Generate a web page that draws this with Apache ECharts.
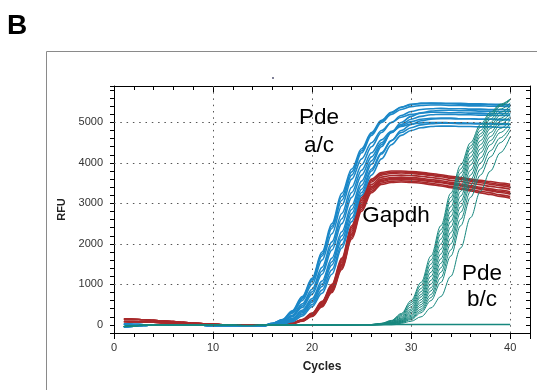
<!DOCTYPE html>
<html>
<head>
<meta charset="utf-8">
<script src="https://cdn.jsdelivr.net/npm/echarts@6/dist/echarts.min.js"></script>
<style>
  html, body { margin: 0; padding: 0; background: #fff; }
  #main { width: 537px; height: 390px; }
</style>
</head>
<body>
<div id="main"></div>
<script>
// cycle numbers on the x axis
const cycles = [1, 2, 3, 4, 5, 6, 7, 8, 9, 10, 11, 12, 13, 14, 15, 16, 17, 18, 19, 20,
  21, 22, 23, 24, 25, 26, 27, 28, 29, 30, 31, 32, 33, 34, 35, 36, 37, 38, 39, 40];

const xTickLabels = [0, 10, 20, 30, 40];
const yTickLabels = [0, 1000, 2000, 3000, 4000, 5000];

// Gapdh: cycles 1-15 baseline, cycles 16-40 amplification
const redBaseHi = [150, 140, 128, 112, 96, 80, 62, 45, 30, 15, 5, 0, -5, -5, 0];
const redBaseLo = [85, 80, 72, 64, 55, 46, 36, 26, 18, 10, 3, 0, -5, -5, 0];
const gapdh1 = [10, 22, 50, 130, 290, 580, 1000, 1650, 2450, 3150, 3600, 3760, 3800, 3800, 3790, 3770, 3740, 3710, 3670, 3640, 3600, 3570, 3540, 3505, 3475];
const gapdh2 = [9, 20, 46, 120, 270, 550, 950, 1580, 2370, 3070, 3530, 3700, 3740, 3750, 3740, 3720, 3690, 3660, 3620, 3590, 3550, 3510, 3470, 3440, 3400];
const gapdh3 = [8, 19, 44, 114, 258, 530, 920, 1540, 2320, 3020, 3470, 3650, 3690, 3700, 3690, 3670, 3640, 3610, 3570, 3540, 3500, 3460, 3420, 3390, 3350];
const gapdh4 = [7, 18, 42, 108, 245, 510, 890, 1500, 2270, 2970, 3420, 3600, 3640, 3650, 3640, 3620, 3590, 3560, 3520, 3480, 3440, 3400, 3360, 3330, 3290];
const gapdh5 = [6, 16, 38, 100, 228, 480, 850, 1440, 2200, 2900, 3350, 3545, 3590, 3600, 3590, 3570, 3540, 3510, 3470, 3430, 3390, 3350, 3310, 3270, 3230];
const gapdh6 = [6, 15, 36, 95, 218, 462, 825, 1405, 2160, 2855, 3305, 3505, 3550, 3560, 3550, 3530, 3500, 3460, 3420, 3380, 3340, 3300, 3260, 3210, 3170];
const gapdh7 = [5, 14, 34, 90, 208, 445, 800, 1370, 2120, 2810, 3265, 3470, 3515, 3530, 3520, 3500, 3465, 3430, 3390, 3350, 3310, 3260, 3220, 3175, 3130];
const gapdh8 = [9, 21, 48, 125, 280, 565, 975, 1615, 2410, 3110, 3565, 3730, 3770, 3775, 3765, 3745, 3715, 3685, 3645, 3615, 3575, 3540, 3505, 3470, 3440];
const gapdh9 = [7, 17, 40, 104, 236, 495, 870, 1470, 2235, 2935, 3385, 3570, 3615, 3620, 3610, 3590, 3560, 3530, 3490, 3450, 3410, 3370, 3330, 3300, 3260];

// Pde a/c: cycles 1-15 baseline, cycles 16-40 amplification
const blueBaseA = [20, 10, 5, 0, 0, -5, -5, -10, -10, -15, -20, -25, -30, -30, -25];
const blueBaseB = [-50, -30, -15, -5, 0, 0, -5, -5, -10, -15, -20, -25, -30, -30, -20];
const pdeAC1 = [40, 130, 350, 700, 1150, 1800, 2500, 3250, 3850, 4350, 4750, 5050, 5250, 5380, 5450, 5470, 5470, 5460, 5460, 5450, 5450, 5440, 5440, 5430, 5430];
const pdeAC2 = [30, 110, 290, 600, 1000, 1600, 2250, 2950, 3600, 4100, 4500, 4800, 5000, 5130, 5200, 5230, 5250, 5250, 5240, 5240, 5230, 5230, 5220, 5220, 5210];
const pdeAC3 = [25, 90, 240, 520, 880, 1420, 2050, 2750, 3400, 3950, 4400, 4750, 5000, 5170, 5270, 5320, 5340, 5350, 5340, 5340, 5330, 5330, 5320, 5320, 5310];
const pdeAC4 = [20, 70, 200, 430, 760, 1250, 1850, 2500, 3150, 3700, 4150, 4500, 4750, 4920, 5020, 5080, 5100, 5100, 5100, 5090, 5090, 5080, 5080, 5070, 5070];
const pdeAC5 = [15, 55, 160, 360, 650, 1080, 1650, 2300, 2950, 3550, 4050, 4450, 4750, 4950, 5080, 5150, 5190, 5200, 5200, 5190, 5190, 5180, 5180, 5170, 5170];
const pdeAC6 = [10, 45, 130, 300, 560, 950, 1480, 2100, 2750, 3350, 3850, 4250, 4550, 4750, 4870, 4940, 4970, 4980, 4980, 4970, 4970, 4960, 4960, 4950, 4950];
const pdeAC7 = [5, 20, 80, 220, 450, 780, 1250, 1900, 2550, 3200, 3700, 4100, 4450, 4680, 4800, 4870, 4900, 4910, 4910, 4900, 4900, 4890, 4890, 4880, 4880];
const pdeAC8 = [35, 120, 310, 640, 1080, 1700, 2380, 3080, 3700, 4250, 4680, 5000, 5200, 5320, 5390, 5420, 5430, 5430, 5420, 5420, 5410, 5410, 5400, 5400, 5390];
const pdeAC9 = [38, 125, 330, 670, 1120, 1750, 2440, 3170, 3780, 4300, 4720, 5030, 5240, 5370, 5440, 5470, 5480, 5480, 5470, 5470, 5460, 5460, 5450, 5450, 5440];
const pdeAC10 = [22, 80, 220, 470, 820, 1330, 1950, 2620, 3270, 3820, 4250, 4570, 4780, 4900, 4960, 4990, 5000, 5000, 4990, 4990, 4980, 4980, 4970, 4970, 4960];
const pdeAC11 = [12, 50, 145, 330, 600, 1010, 1560, 2200, 2850, 3450, 3970, 4400, 4750, 5000, 5150, 5240, 5280, 5300, 5300, 5290, 5290, 5280, 5280, 5270, 5270];
const pdeAC12 = [8, 32, 105, 260, 500, 860, 1360, 1980, 2640, 3270, 3800, 4220, 4550, 4800, 4950, 5040, 5080, 5100, 5100, 5090, 5090, 5080, 5080, 5070, 5070];

// Pde b/c: cycles 1-25 baseline, cycles 26-40 amplification
const tealBase = [-40, -20, -10, 0, 5, 5, 0, 0, -5, -5, -10, -10, -15, -15, -10, -5, 0, 0, 0, 0, 0, 0, 0, 0, 5];
const pdeBC1 = [10, 40, 110, 280, 600, 1050, 1700, 2450, 3250, 3950, 4500, 4950, 5250, 5450, 5580];
const pdeBC2 = [8, 30, 90, 230, 500, 900, 1500, 2250, 3050, 3750, 4350, 4800, 5150, 5400, 5550];
const pdeBC3 = [5, 22, 65, 170, 390, 750, 1300, 2000, 2800, 3550, 4150, 4650, 5000, 5250, 5400];
const pdeBC4 = [4, 18, 50, 130, 310, 620, 1100, 1750, 2550, 3300, 3950, 4450, 4850, 5100, 5300];
const pdeBC5 = [3, 12, 38, 100, 240, 500, 920, 1520, 2280, 3050, 3700, 4250, 4650, 4950, 5150];
const pdeBC6 = [2, 9, 28, 75, 180, 390, 750, 1300, 2000, 2780, 3450, 4000, 4450, 4750, 4980];
const pdeBC7 = [1, 6, 20, 55, 130, 300, 600, 1050, 1700, 2450, 3150, 3700, 4150, 4500, 4800];
const pdeBC8 = [0, 5, 15, 40, 90, 200, 420, 700, 1200, 1900, 2650, 3300, 3800, 4250, 4650];
const pdeBC9 = [9, 35, 100, 255, 550, 980, 1600, 2350, 3150, 3850, 4420, 4880, 5200, 5430, 5570];
const pdeBC10 = [6, 26, 78, 200, 445, 820, 1400, 2120, 2920, 3650, 4250, 4720, 5080, 5330, 5480];
const pdeBC11 = [5, 20, 58, 150, 350, 690, 1200, 1870, 2680, 3420, 4050, 4550, 4920, 5180, 5350];
const pdeBC12 = [3, 15, 44, 115, 275, 560, 1010, 1630, 2420, 3180, 3820, 4350, 4750, 5030, 5220];
const pdeBC13 = [2, 10, 33, 88, 210, 445, 840, 1410, 2140, 2920, 3580, 4120, 4550, 4850, 5060];
const pdeBC14 = [1, 7, 24, 65, 155, 345, 675, 1170, 1850, 2610, 3300, 3850, 4300, 4620, 4880];
const noTemplate = [5, 5, 5, 10, 10, 10, 10, 10, 10, 10, 10, 10, 10, 10, 10];

const RED = '#a8292b';
const BLUE = '#1c88c8';
const TEAL = '#16877e';

const toPoints = (vals) => vals.map((v, i) => [cycles[i], v]);

const curve = (vals, color, width) => ({
  type: 'line',
  data: toPoints(vals),
  showSymbol: false,
  smooth: 0.35,
  smoothMonotone: 'x',
  silent: true,
  lineStyle: { color: color, width: width }
});

const series = [];
// dotted grid drawn through the axes
series.push({
  type: 'line',
  data: [],
  silent: true,
  markLine: {
    silent: true,
    symbol: ['none', 'none'],
    label: { show: false },
    lineStyle: { color: '#555', width: 1, type: [1.5, 4.8] },
    data: yTickLabels.filter(v => v > 0).map(v => ({ yAxis: v }))
      .concat(xTickLabels.filter(v => v > 0).map(v => ({ xAxis: v })))
  }
});

[gapdh1, gapdh8, gapdh2, gapdh3].forEach(r => series.push(curve(redBaseHi.concat(r), RED, 1.6)));
[gapdh4, gapdh9, gapdh5, gapdh6, gapdh7].forEach(r => series.push(curve(redBaseLo.concat(r), RED, 1.6)));
[pdeAC1, pdeAC9, pdeAC8, pdeAC2, pdeAC3, pdeAC10, pdeAC4, pdeAC5, pdeAC11, pdeAC6, pdeAC12, pdeAC7].forEach((r, i) =>
  series.push(curve((i % 2 ? blueBaseB : blueBaseA).concat(r), BLUE, 1.6)));
[pdeBC1, pdeBC9, pdeBC2, pdeBC10, pdeBC3, pdeBC11, pdeBC4, pdeBC12, pdeBC5, pdeBC13, pdeBC6, pdeBC14, pdeBC7, pdeBC8].forEach(r =>
  series.push(curve(tealBase.concat(r), TEAL, 1)));
series.push(curve(tealBase.concat(noTemplate), TEAL, 1.4));

const FONT = 'Liberation Sans';

const chart = echarts.init(document.getElementById('main'), null, { renderer: 'canvas' });

const option = {
  animation: false,
  backgroundColor: '#fff',
  grid: { left: 114, top: 86, right: 7, bottom: 57 },
  xAxis: [
    {
      type: 'value', position: 'bottom', min: 0, max: 42, interval: 10,
      name: 'Cycles', nameLocation: 'middle', nameGap: 28,
      nameTextStyle: { fontFamily: FONT, fontWeight: 'bold', fontSize: 12, color: '#222' },
      axisLine: { onZero: false, lineStyle: { color: '#000', width: 1 } },
      axisTick: { length: 6, lineStyle: { color: '#000' } },
      minorTick: { show: true, splitNumber: 5, length: 4, lineStyle: { color: '#000' } },
      splitLine: { show: false },
      axisLabel: {
        fontFamily: FONT, fontSize: 11, color: '#333', margin: 9,
        formatter: v => (xTickLabels.indexOf(v) >= 0 ? String(v) : '')
      }
    },
    {
      type: 'value', position: 'top', min: 0, max: 42, interval: 10,
      axisLine: { onZero: false, lineStyle: { color: '#000', width: 1 } },
      axisTick: { inside: true, length: 6, lineStyle: { color: '#000' } },
      minorTick: { show: true, splitNumber: 5, length: 4, lineStyle: { color: '#000' } },
      splitLine: { show: false },
      axisLabel: { show: false }
    }
  ],
  yAxis: [
    {
      type: 'value', position: 'left', min: -200, max: 5900, interval: 200,
      name: 'RFU', nameLocation: 'middle', nameGap: 47, nameRotate: 90,
      nameTextStyle: { fontFamily: FONT, fontWeight: 'bold', fontSize: 11, color: '#222' },
      axisLine: { onZero: false, lineStyle: { color: '#000', width: 1 } },
      axisTick: { length: 4, lineStyle: { color: '#000' } },
      splitLine: { show: false },
      axisLabel: {
        fontFamily: FONT, fontSize: 11, color: '#333', margin: 11,
        formatter: v => (yTickLabels.indexOf(v) >= 0 ? String(v) : '')
      }
    },
    {
      type: 'value', position: 'right', min: -200, max: 5900, interval: 200,
      axisLine: { onZero: false, lineStyle: { color: '#000', width: 1 } },
      axisTick: { inside: true, length: 4, lineStyle: { color: '#000' } },
      splitLine: { show: false },
      axisLabel: { show: false }
    }
  ],
  series: series,
  graphic: [
    {
      type: 'rect', silent: true, z: -1,
      shape: { x: 46.5, y: 51.5, width: 600, height: 400 },
      style: { fill: 'none', stroke: '#8a8a8a', lineWidth: 1 }
    },
    {
      type: 'circle', silent: true,
      shape: { cx: 273, cy: 78, r: 0.9 },
      style: { fill: '#446' }
    },
    {
      type: 'text', left: 7, top: 12,
      style: { text: 'B', font: 'bold 28px "Liberation Sans"', fill: '#000' }
    },
    {
      type: 'text', x: 319, y: 118,
      style: { text: 'Pde', font: '22.5px "Liberation Sans"', fill: '#000', align: 'center', verticalAlign: 'middle' }
    },
    {
      type: 'text', x: 319, y: 146,
      style: { text: 'a/c', font: '22.5px "Liberation Sans"', fill: '#000', align: 'center', verticalAlign: 'middle' }
    },
    {
      type: 'text', x: 396, y: 216,
      style: { text: 'Gapdh', font: '22.5px "Liberation Sans"', fill: '#000', align: 'center', verticalAlign: 'middle' }
    },
    {
      type: 'text', x: 482, y: 274,
      style: { text: 'Pde', font: '22.5px "Liberation Sans"', fill: '#000', align: 'center', verticalAlign: 'middle' }
    },
    {
      type: 'text', x: 482, y: 300,
      style: { text: 'b/c', font: '22.5px "Liberation Sans"', fill: '#000', align: 'center', verticalAlign: 'middle' }
    }
  ]
};

chart.setOption(option);
</script>
</body>
</html>
